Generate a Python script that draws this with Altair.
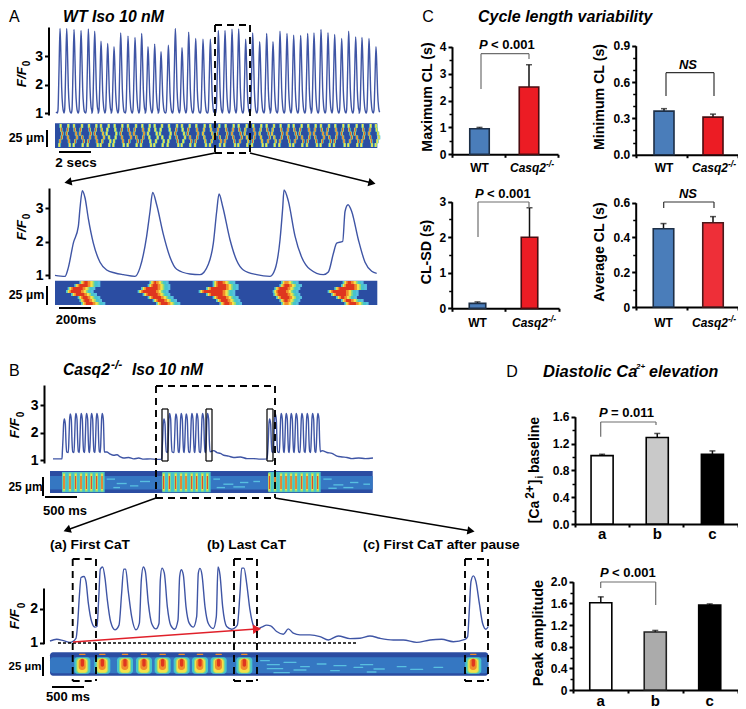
import math
import altair as alt
import pandas as pd

W, H = 730, 701
FONT = "Liberation Sans"
LINE = "#3f55a5"
HEAT = {"bg": "#2b4da2", "band": "#3577c2", "streak": "#58bfe0", "teal": "#46c4cc", "green": "#93dc78",
        "yellow": "#f5e04a", "orange": "#f08c2c", "red": "#df361f"}

# ---------- data ----------
a_peak_s = [180,200,222,243,265,284,303,323,342,362,384,405,425,444,464,483,505,526,546,566,587,609,631,655,675,696,716,737,758,779,800,819,840,861,881,902,923,942,963,984,1004,1025,1046,1067,1086,1107,1128]
a_peak_v = [3.97,3.97,3.93,3.9,3.95,3.87,3.52,3.44,3.33,3.81,3.7,3.65,3.79,3.33,3.42,3.15,3.38,3.97,3.29,3.84,3.62,3.59,3.59,3.9,3.9,3.94,3.95,3.59,3.81,3.5,3.79,3.5,3.87,3.79,3.73,3.72,3.79,3.81,3.93,3.82,3.76,3.62,3.87,3.67,3.65,3.62,3.33]
a_beat_ds = [-8,-6,-3,0,2,5,8,11]
a_beat_fr = [0.0,0.04,0.5,1.0,0.8,0.3,0.08,0.01]

az_s = [165,195,205,220,235,240,247,255,265,280,300,320,345,370,405,420,440,450,458,470,490,510,530,570,600,625,640,650,657,668,690,710,730,770,810,825,840,848,852,865,885,905,930,970,985,1000,1010,1028,1035,1044,1055,1075,1095,1115,1130]
az_v = [1.0,0.97,1.23,1.96,2.46,3.0,3.52,3.31,2.69,1.96,1.39,1.16,1.07,1.02,0.97,1.23,2.17,2.9,3.47,3.1,2.22,1.54,1.18,1.04,1.02,1.33,1.96,2.9,3.42,3.05,2.06,1.44,1.16,1.02,0.97,1.18,2.06,3.0,3.54,3.21,2.17,1.54,1.18,1.02,1.1,1.65,1.96,2.01,2.9,3.1,2.9,2.06,1.39,1.12,1.06]
az_left = [[240,225,205,200,215,235,240,245],[450,445,425,415,430,445,460,470],[640,640,620,598,620,640,650,660],[845,840,825,820,822,830,840,845],[1030,1025,1005,985,995,1010,1025,1035]]
az_right = [[285,285,270,265,275,285,290,300],[490,495,495,490,495,505,515,525],[690,700,700,690,690,700,705,710],[880,890,885,880,885,890,885,880],[1075,1085,1085,1060,1060,1055,1075,1090]]

b_first_s = [192,210,227,243,259,274,290,306,491,508,527,543,558,575,590,607,622,808,825,843,858,873,888,905,921,937,953]
b_first_v = [2.5,2.68,2.7,2.7,2.7,2.7,2.7,2.7,2.5,2.7,2.68,2.7,2.68,2.7,2.7,2.7,2.7,2.5,2.68,2.7,2.7,2.7,2.7,2.7,2.7,2.7,2.7]
b_beat_ds = [-6,-4,-2,0,3,5,7]
b_beat_fr = [0.0,0.4,0.88,1.0,0.85,0.3,0.02]
b_rest_s = [158,185,312,320,330,340,350,360,370,385,400,415,430,450,470,484,640,650,660,670,685,700,720,740,760,780,800,965,980,995,1010,1025,1040,1055,1075,1095,1118]
b_rest_v = [1.05,1.05,1.3,1.3,1.22,1.18,1.2,1.12,1.08,1.1,1.05,1.08,1.04,1.05,1.03,1.04,1.35,1.28,1.25,1.18,1.15,1.1,1.12,1.06,1.06,1.04,1.05,1.35,1.28,1.25,1.15,1.12,1.1,1.06,1.08,1.06,1.08]
b_streak_x = [320,350,390,340,420,640,670,720,650,700,760,970,1000,1050,985,1030,1090]
b_streak_w = [25,30,25,20,30,20,30,25,25,35,20,25,30,25,25,30,20]
b_streak_y = [385,398,405,410,392,385,400,395,410,408,392,385,402,395,412,410,400]

bz_s = [150,170,190,210,228,233,238,243,252,258,265,275,285,291,296,301,308,315,322,332,345,357,365,371,377,385,395,408,418,424,430,436,445,455,468,477,481,486,493,502,512,524,534,539,544,550,558,568,580,590,595,600,606,615,625,640,649,654,660,668,680,695,712,720,725,732,740,750,760,772,785,800,812,830,850,865,880,900,930,960,985,1015,1050,1080,1110,1140,1180,1210,1250,1290,1325,1360,1395,1403,1408,1413,1420,1428,1438,1448,1458,1465]
bz_v = [1.05,1.10,1.06,1.01,1.13,1.57,2.37,2.93,2.96,2.81,2.17,1.62,1.46,1.48,2.27,3.18,3.24,2.91,2.27,1.62,1.38,1.52,2.47,3.18,3.18,2.51,1.77,1.38,1.57,2.86,3.24,3.11,2.17,1.57,1.41,1.57,2.86,3.21,3.06,2.07,1.52,1.40,1.67,2.96,3.16,3.01,2.07,1.57,1.46,1.77,3.06,3.2,3.01,2.07,1.57,1.42,1.77,3.24,3.01,2.07,1.48,1.40,1.52,2.47,3.21,3.21,2.76,1.97,1.52,1.41,1.46,1.52,1.5,1.33,1.25,1.41,1.28,1.23,1.23,1.18,1.08,1.2,1.12,1.13,1.2,1.13,1.08,1.08,1.01,1.08,1.1,1.03,1.1,1.18,1.97,2.81,2.98,2.81,2.17,1.57,1.40,1.48]
bz_blob = [247,307,375,432,488,545,600,656,733,1420]
bz_streak_x = [780,800,850,900,800,880,950,1000,1060,1120,990,1080,1190,820,1100,1230,1300]
bz_streak_w = [30,40,40,30,50,40,30,40,30,35,30,40,30,50,30,40,30]
bz_streak_y = [450,462,455,468,474,478,460,465,470,475,480,462,468,486,484,476,470]

# bar panels
c_cats = ["WT", "Casq2"]
d_cats = ["a", "b", "c"]
max_cl, max_cl_err = [0.95, 2.5], [1.0, 3.33]
min_cl, min_cl_err = [0.36, 0.31], [0.38, 0.335]
sd_cl, sd_cl_err = [0.14, 2.0], [0.18, 2.83]
avg_cl, avg_cl_err = [0.45, 0.485], [0.48, 0.52]
base, base_err = [1.02, 1.29, 1.04], [1.04, 1.35, 1.09]
peak, peak_err = [1.61, 1.07, 1.57], [1.72, 1.10, 1.59]

# ---------- helpers ----------
layers = []
ONE = alt.Data(values=[{"k": 0}])
px = lambda v: v - 8


def text(s, x, y, size=12, weight="bold", style="normal", angle=None, align="center", color="black"):
    kw = dict(font=FONT, fontSize=size, fontWeight=weight, fontStyle=style, align=align, baseline="middle", color=color)
    if angle is not None:
        kw["angle"] = angle
    layers.append(alt.Chart(ONE).mark_text(**kw).encode(x=alt.value(px(x)), y=alt.value(px(y)), text=alt.value(s)))


def seg(x1, y1, x2, y2, width=1.5, color="black", dash=None):
    kw = dict(strokeWidth=width, color=color)
    if dash:
        kw["strokeDash"] = dash
    layers.append(alt.Chart(ONE).mark_rule(**kw).encode(x=alt.value(px(x1)), y=alt.value(px(y1)), x2=alt.value(px(x2)), y2=alt.value(px(y2))))


def arrow(x1, y1, x2, y2, color="black", width=1.5, size=70):
    seg(x1, y1, x2, y2, width, color)
    ang = (math.degrees(math.atan2(x2 - x1, -(y2 - y1)))) % 360
    layers.append(alt.Chart(ONE).mark_point(shape="triangle-up", filled=True, size=size, color=color, opacity=1, angle=ang).encode(x=alt.value(px(x2)), y=alt.value(px(y2))))


def box(x1, y1, x2, y2, dash=(7, 5), width=1.9):
    seg(x1, y1, x2, y1, width, dash=list(dash)); seg(x1, y2, x2, y2, width, dash=list(dash))
    seg(x1, y1, x1, y2, width, dash=list(dash)); seg(x2, y1, x2, y2, width, dash=list(dash))


def bracket(x1, y1, x2, y2, ytop, color="#6e6e6e", width=1.2):
    seg(x1, ytop, x2, ytop, width, color); seg(x1, ytop, x1, y1, width, color); seg(x2, ytop, x2, y2, width, color)


def trace(xs, ys, xdom, xr, ydom, yr, axis_x, ticks, size=14, width=1.4):
    df = pd.DataFrame({"x": xs, "y": ys})
    layers.append(alt.Chart(df).mark_line(color=LINE, strokeWidth=width, interpolate="monotone", clip=False).encode(
        x=alt.X("x:Q", scale=alt.Scale(domain=xdom, range=[px(xr[0]), px(xr[1])], nice=False, zero=False), axis=None),
        y=alt.Y("y:Q", scale=alt.Scale(domain=ydom, range=[px(yr[0]), px(yr[1])], nice=False, zero=False),
                axis=alt.Axis(orient="left", offset=-px(axis_x), values=ticks, format="d", title=None, grid=False, domainWidth=2, domainColor="black",
                              tickColor="black", tickWidth=2, tickSize=4, labelFont=FONT, labelFontWeight="bold", labelFontSize=size, labelColor="black", labelPadding=2))))


def heat(rows, xdom, xr, ydom, yr, radius=0):
    df = pd.DataFrame(rows, columns=["x", "x2", "y", "y2", "c"])
    kw = {"cornerRadius": radius} if radius else {}
    layers.append(alt.Chart(df).mark_rect(**kw).encode(
        x=alt.X("x:Q", scale=alt.Scale(domain=xdom, range=[px(xr[0]), px(xr[1])], nice=False, zero=False), axis=None),
        x2="x2:Q",
        y=alt.Y("y:Q", scale=alt.Scale(domain=ydom, range=[px(yr[0]), px(yr[1])], nice=False, zero=False), axis=None),
        y2="y2:Q",
        color=alt.Color("c:N", scale=alt.Scale(domain=list(HEAT), range=list(HEAT.values())), legend=None)))


def ffo(x, y, subx, suby):
    text("F/F", x, y, 13.5, style="italic", angle=270)
    text("0", subx, suby, 10, angle=270)


def bars(cats, vals, errs, fills, strokes, centers, w, x0, x1, xticks, y0, ytop, ymax, ax, majors, minors, fmt, size=12, labels=True, laby=0, labsize=12):
    step = centers[1] - centers[0]
    pad = 1 - w / step
    xs = alt.Scale(domain=cats, range=[px(centers[0] - step / 2), px(centers[-1] + step / 2)], paddingInner=pad, paddingOuter=pad / 2)
    ys = alt.Scale(domain=[0, ymax], range=[px(y0), px(ytop)], nice=False, zero=False)
    df = pd.DataFrame({"cat": cats, "v": vals, "e": errs})
    X = alt.X("cat:N", scale=xs, axis=None, sort=cats)
    layers.append(alt.Chart(df).mark_rule(strokeWidth=1.5, color="#111111").encode(x=X, y=alt.Y("v:Q", scale=ys, axis=None), y2="e:Q"))
    layers.append(alt.Chart(df).mark_tick(thickness=1.5, size=6, color="#111111", orient="horizontal").encode(x=X, y=alt.Y("e:Q", scale=ys, axis=None)))
    axis = alt.Axis(orient="left", offset=-px(ax), values=majors, title=None, grid=False, domainWidth=2, domainColor="black", tickColor="black", tickWidth=2, tickSize=4,
                    labelFont=FONT, labelFontWeight="bold", labelFontSize=size, labelColor="black", labelPadding=2, labelExpr=fmt)
    layers.append(alt.Chart(df).mark_bar(strokeWidth=1.6).encode(
        x=X, y=alt.Y("v:Q", scale=ys, axis=axis),
        fill=alt.Fill("cat:N", scale=alt.Scale(domain=cats, range=fills), legend=None),
        stroke=alt.Stroke("cat:N", scale=alt.Scale(domain=cats, range=strokes), legend=None)))
    mdf = pd.DataFrame({"m": minors})
    layers.append(alt.Chart(mdf).mark_point(opacity=0).encode(x=alt.value(0), y=alt.Y("m:Q", scale=ys, axis=alt.Axis(orient="left", offset=-px(ax), values=minors, labels=False, domain=False, grid=False, title=None, tickColor="black", tickWidth=1.5, tickSize=3))))
    tdf = pd.DataFrame({"t": xticks})
    layers.append(alt.Chart(tdf).mark_point(opacity=0).encode(y=alt.value(0), x=alt.X("t:Q", scale=alt.Scale(domain=[0, 1], range=[px(x0), px(x1)], nice=False, zero=False),
        axis=alt.Axis(orient="bottom", offset=-(H - px(y0)), values=xticks, labels=False, grid=False, title=None, domainWidth=2, domainColor="black", tickColor="black", tickWidth=2, tickSize=3))))
    if labels:
        ldf = pd.DataFrame({"cat": list(cats)})
        layers.append(alt.Chart(ldf).mark_text(font=FONT, fontWeight="bold", fontSize=labsize, baseline="middle", color="black").encode(
            x=X, y=alt.value(px(laby)), text="cat:N"))


def casq_label(x, y, size=12):
    text("Casq2", x, y, size, style="italic", align="left")
    text("-/-", x + 36 * size / 12, y - 4, size * 0.72, style="italic", align="left")


# ---------- strips ----------
# panel A, top strip
rows = [[165, 1132, 370, 444, "bg"]]
wiggle = [[0, 2, 5, 3, -2, -4], [3, 1, -2, 2, 5, 7], [-2, 0, 4, 7, 2, -3], [1, -3, -5, 2, 6, 3]]
for i, (p, v) in enumerate(zip(a_peak_s, a_peak_v)):
    w = wiggle[i % 4]
    for r in range(6):
        y1, y2 = 372 + r * 11.5, 372 + (r + 1) * 11.5
        c = p + 2 + w[r]
        rows.append([c - 4, c + 4, y1, y2, "teal"])
        rows.append([c - 2.8, c + 2.8, y1, y2, "green"])
        rows.append([c - 2, c + 2, y1, y2, "yellow"])
        core = "red" if v > 3.6 else "orange"
        if v > 3.45 and r not in (0, 5):
            rows.append([c - 1.2, c + 1.2, y1, y2, core])
heat(rows, [165, 1132], [55, 377.3], [370, 444], [123.3, 148])

# panel A, lower strip
rows = [[165, 1132, 392, 465, "bg"]]
for L, R in zip(az_left, az_right):
    for r, (l, rr) in enumerate(zip(L, R)):
        y1, y2 = 393 + r * 9, 393 + (r + 1) * 9
        rows.append([l - 2, rr + 16, y1, y2, "streak"])
        rows.append([l, rr + 8, y1, y2, "teal"])
        rows.append([l + 2, rr - 2, y1, y2, "green"])
        rows.append([l + 4, rr - 7, y1, y2, "yellow"])
        rows.append([l + 8, rr - 14, y1, y2, "orange"])
        rows.append([l + 13, rr - 22, y1, y2, "red"])
heat(rows, [165, 1132], [55, 377.3], [392, 465], [280.7, 305])

# panel B, top strip
rows = [[150, 1118, 363, 428, "bg"], [150, 1118, 378, 418, "band"]]
for s, w, y in zip(b_streak_x, b_streak_w, b_streak_y):
    rows.append([s, s + w, y, y + 4, "streak"])
for a, b in [(186, 314), (487, 632), (806, 962)]:
    rows.append([a, b, 366, 426, "teal"])
for p in b_first_s:
    rows.append([p - 4, p + 4, 368, 424, "green"])
    rows.append([p - 2.5, p + 2.5, 372, 420, "yellow"])
    rows.append([p - 1.5, p + 1.5, 378, 416, "red"])
heat(rows, [150, 1118], [50, 372.7], [363, 428], [471, 493])

# panel B, bottom strip
rows = [[150, 1465, 427, 497, "bg"], [150, 1465, 442, 490, "band"]]
for s, w, y in zip(bz_streak_x, bz_streak_w, bz_streak_y):
    rows.append([s, s + w, y, y + 4, "streak"])
for p in bz_blob:
    rows.append([p - 24, p + 24, 442, 491, "teal"])
    rows.append([p - 18, p + 18, 444, 490, "green"])
    rows.append([p - 15, p + 15, 446, 488, "yellow"])
    rows.append([p - 11, p + 10, 446, 480, "orange"])
    rows.append([p - 5, p + 5, 446, 470, "red"])
    rows.append([p - 10, p + 10, 431, 435, "orange"])
heat(rows, [150, 1465], [50, 488.3], [427, 497], [652.3, 675.7], radius=3)

# ---------- traces ----------
a_x, a_y = [168], [1.04]
for p, v in zip(a_peak_s, a_peak_v):
    for d, f in zip(a_beat_ds, a_beat_fr):
        a_x.append(p + d); a_y.append(1.0 + (v - 1.0) * f)
trace(a_x, a_y, [168, 1138], [56, 379.3], [0.93, 4.02], [115, 27], 48.5, [1, 2, 3])
trace(az_s, az_v, [165, 1130], [55, 376.7], [0.9, 3.6], [278.7, 188], 49, [1, 2, 3])

b_pts = list(zip(b_rest_s, b_rest_v))
for p, v in zip(b_first_s, b_first_v):
    for d, f in zip(b_beat_ds, b_beat_fr):
        b_pts.append((p + d, 1.28 + (v - 1.28) * f))
b_pts.sort()
trace([q[0] for q in b_pts], [q[1] for q in b_pts], [158, 1118], [53, 373], [0.9, 3.73], [463, 385], 44, [1, 2, 3])
trace(bz_s, bz_v, [150, 1465], [50, 488.3], [0.97, 2.62], [643.7, 588], 43.5, [1, 2])

# ---------- annotations, panels A & B ----------
text("A", 9, 17, 16, "normal", align="left")
text("WT Iso 10 nM", 63, 17, 15.8, style="italic", align="left")
ffo(22, 77, 27, 63.5)
seg(47, 130, 47, 147, 2); text("25 \u00b5m", 26.5, 138, 12.5)
seg(59, 152, 91, 152, 2); text("2 secs", 76, 163, 13.5)
box(215, 25, 250, 153)
arrow(215, 153, 68, 182); arrow(250, 153, 372, 183)

ffo(22, 230, 27, 216.5)
seg(47, 286, 47, 305, 2); text("25 \u00b5m", 26.5, 295, 12.5)
seg(59, 308, 91, 308, 2); text("200ms", 76, 320, 13)

text("B", 9, 371, 16, "normal", align="left")
text("Casq2", 63, 370, 15.6, style="italic", align="left")
text("-/-", 111, 365, 12, style="italic", align="left")
text("Iso 10 nM", 132, 370, 15.6, style="italic", align="left")
ffo(15, 428, 21, 414.5)
seg(43, 477, 43, 496, 2); text("25 \u00b5m", 25.5, 487, 12)
seg(45, 497, 77, 497, 2); text("500 ms", 65, 511, 13)
box(156, 386, 275, 498)
box(162, 409, 168, 461, dash=(20, 0), width=1.2); box(206, 409, 212, 461, dash=(20, 0), width=1.2); box(267, 409, 273, 461, dash=(20, 0), width=1.2)
arrow(156, 498, 67, 530); arrow(275, 498, 471, 531)

text("(a) First CaT", 50, 545, 13.7, align="left")
text("(b) Last CaT", 207, 545, 13.7, align="left")
text("(c) First CaT after pause", 363, 545, 13.7, align="left")
ffo(15, 619, 22, 605.5)
seg(58, 643, 358, 643, 1.3, dash=[3, 2])
arrow(73, 642, 257, 629, "#e0202a", 1.6, 90)
box(72.7, 559, 96, 681); box(234, 559, 257, 681); box(465, 559, 488, 681)
seg(43, 657, 43, 676, 2); text("25 \u00b5m", 25, 667, 11.5)
seg(52, 687, 84, 687, 2); text("500 ms", 68, 697, 13)

# ---------- panel C ----------
text("C", 428, 17, 16, "normal")
text("Cycle length variability", 478, 17, 16, style="italic", align="left")
BLUE, RED, DB, DR = "#4a7dba", "#ec1c24", "#1d2f47", "#4a0c10"
zero_fmt = "datum.value == 0 ? '0' : format(datum.value, '.1f')"
int_fmt = "format(datum.value, 'd')"
f1_fmt = "format(datum.value, '.1f')"

bars(c_cats, max_cl, max_cl_err, [BLUE, RED], [DB, DR], [479.5, 529], 19.5, 452, 558, [0, 0.5, 1], 154.3, 46.7, 4, 452, [0, 1, 2, 3, 4], [0.5, 1.5, 2.5, 3.5], int_fmt, labels=False)
text("WT", 479.5, 168, 12); casq_label(510, 168)
text("Maximum CL (s)", 428, 97, 14.2, angle=270)
bracket(481, 89, 529, 59, 53.7); text("P", 479, 45, 13, style="italic", align="left"); text("< 0.001", 491, 45, 13, align="left")

bars(c_cats, min_cl, min_cl_err, [BLUE, RED], [DB, DR], [664, 713], 20, 635.7, 737.5, [0, 0.5, 1], 154.7, 45.7, 0.9, 635.7, [0, 0.3, 0.6, 0.9], [0.1, 0.2, 0.4, 0.5, 0.7, 0.8], f1_fmt, labels=False)
text("WT", 664, 168, 12); casq_label(692, 168)
text("Minimum CL (s)", 600, 97, 14.2, angle=270)
bracket(666, 96, 714, 96, 72.7, "#333333"); text("NS", 688, 65, 13, style="italic")

bars(c_cats, sd_cl, sd_cl_err, [BLUE, RED], [DB, DR], [477.5, 529.5], 16.5, 451.7, 559, [0, 0.5, 1], 308.3, 201.7, 3, 451.7, [0, 1, 2, 3], [0.5, 1.5, 2.5], int_fmt, labels=False)
text("WT", 477.5, 322.7, 12); casq_label(512, 322.7)
text("CL-SD (s)", 427, 252, 14.2, angle=270)
bracket(478, 237, 529, 208, 202); text("P", 475, 194, 13, style="italic", align="left"); text("< 0.001", 487, 194, 13, align="left")

bars(c_cats, avg_cl, avg_cl_err, [BLUE, "#ee2f38"], [DB, "#4a1a1c"], [663.5, 713], 20.5, 635.7, 737.5, [0, 0.5, 1], 307, 202.7, 0.6, 635.7, [0, 0.2, 0.4, 0.6], [0.1, 0.3, 0.5], zero_fmt, labels=False)
text("WT", 663.5, 322.7, 12); casq_label(692, 322.7)
text("Average CL (s)", 600, 252, 14.2, angle=270)
bracket(663.7, 208, 714, 208, 202, "#333333"); text("NS", 688, 194, 13, style="italic")

# ---------- panel D ----------
text("D", 512, 372, 16, "normal")
text("Diastolic Ca", 543, 372, 16.5, style="italic", align="left")
text("2+", 636, 367, 8, style="italic", align="left")
text("elevation", 649, 372, 16, style="italic", align="left")

bars(d_cats, base, base_err, ["white", "#c9c9c9", "black"], ["black", "black", "black"], [602, 657, 712.5], 22, 575, 737.5, [0, 1 / 3, 2 / 3, 1], 524, 416.7, 1.6, 575, [0, 0.4, 0.8, 1.2, 1.6], [0.2, 0.6, 1.0, 1.4], f1_fmt, laby=534, labsize=15)
text("[Ca", 535, 512, 14, angle=270)
text("2+", 530, 492, 12, angle=270)
text("]", 535, 482, 14, angle=270)
text("i", 540, 477, 10, angle=270)
text("baseline", 535, 445, 14, angle=270)
bracket(600.7, 436.7, 656, 425, 422); text("P", 599, 413, 13, style="italic", align="left"); text("= 0.011", 611, 413, 13, align="left")

bars(d_cats, peak, peak_err, ["white", "#ababab", "black"], ["black", "#222222", "black"], [600.7, 655, 709.8], 22, 573, 737.5, [0, 1 / 3, 2 / 3, 1], 690, 581.7, 2, 573, [0, 0.4, 0.8, 1.2, 1.6, 2.0], [0.2, 0.6, 1.0, 1.4, 1.8], zero_fmt, laby=701, labsize=15)
text("Peak amplitude", 539, 633, 14.5, angle=270)
bracket(600.7, 588, 655.7, 605, 582); text("P", 600, 573, 13, style="italic", align="left"); text("< 0.001", 612, 573, 13, align="left")

chart = alt.layer(*layers).properties(width=W, height=H, padding=0, autosize=alt.AutoSizeParams(type="none"), background="white").resolve_scale(
    x="independent", y="independent", color="independent", fill="independent", stroke="independent"
).configure_view(stroke=None)

chart.save("out.html", embed_options={"renderer": "svg", "actions": False})
